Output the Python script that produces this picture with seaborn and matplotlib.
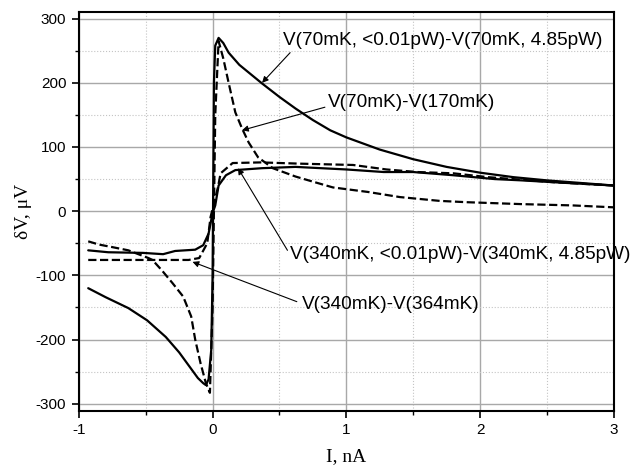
import numpy as np
import pandas as pd
import matplotlib
matplotlib.use("Agg")
import matplotlib.pyplot as plt
from matplotlib.ticker import MultipleLocator
import seaborn as sns

# V(70mK, <0.01pW) - V(70mK, 4.85pW)  (solid)
a_x = [-0.93, -0.80, -0.63, -0.49, -0.35, -0.25, -0.18, -0.11, -0.07, -0.05, -0.03, -0.01,
       0.0, 0.005, 0.01, 0.02, 0.045, 0.08, 0.12, 0.20, 0.37, 0.50, 0.62, 0.75, 0.88,
       1.0, 1.25, 1.5, 1.75, 2.0, 2.25, 2.5, 2.75, 3.0]
a_y = [-120, -134, -151, -170, -196, -220, -240, -260, -268, -271, -262, -216,
       -100, 50, 200, 258, 270, 262, 247, 228, 199, 178, 160, 142, 126,
       115, 96, 81, 69, 60, 53, 48, 44, 40]

# V(70mK) - V(170mK)  (dashed)
b_x = [-0.93, -0.85, -0.75, -0.63, -0.48, -0.45, -0.38, -0.30, -0.22, -0.16,
       -0.13, -0.09, -0.05, -0.02, 0.0, 0.02, 0.045, 0.08, 0.12, 0.17, 0.22,
       0.27, 0.34, 0.45, 0.62, 0.75, 0.90, 1.16, 1.4, 1.7, 1.9, 2.31, 2.69, 3.0]
b_y = [-47, -52, -56, -61, -73, -76, -92, -112, -133, -164,
       -200, -237, -268, -283, -150, 150, 265, 238, 200, 154, 129,
       107, 84, 67, 54, 46, 37, 30, 22, 16, 14, 11, 9, 6]

# V(340mK, <0.01pW) - V(340mK, 4.85pW)  (solid)
c_x = [-0.93, -0.78, -0.52, -0.37, -0.28, -0.13, -0.07, -0.03, 0.0, 0.02,
       0.045, 0.10, 0.17, 0.37, 0.62, 1.0, 1.28, 1.5, 1.8, 2.11, 2.31, 2.56, 3.0]
c_y = [-61, -64, -65, -67, -62, -60, -53, -35, -3, 9,
       40, 56, 64, 67, 69, 65, 61, 61, 56, 50, 48, 45, 40]

# V(340mK) - V(364mK)  (dashed)
d_x = [-0.93, -0.6, -0.3, -0.18, -0.10, -0.04, -0.015, 0.04, 0.06, 0.15,
       0.36, 0.66, 1.05, 1.3, 1.53, 1.8, 2.06, 2.56, 3.0]
d_y = [-76, -76, -76, -76, -73, -50, -9, 37, 59, 75,
       76, 74, 72, 65, 61, 59, 53, 45, 40]

labels = ["V(70mK, <0.01pW)-V(70mK, 4.85pW)", "V(70mK)-V(170mK)",
          "V(340mK, <0.01pW)-V(340mK, 4.85pW)", "V(340mK)-V(364mK)"]
text_pos = [(0.53, 266), (0.86, 170), (0.58, -68), (0.67, -146)]
arrow_tail = [(0.58, 247), (0.84, 162), (0.56, -61), (0.63, -141)]
arrow_tip = [(0.37, 200), (0.22, 126), (0.19, 67), (-0.15, -79)]

sns.set_style("white")
plt.rcParams['font.family'] = ['Liberation Sans', 'DejaVu Sans']
plt.rcParams['axes.unicode_minus'] = False
plt.rcParams['text.color'] = 'black'
plt.rcParams['axes.labelcolor'] = 'black'

fig = plt.figure(figsize=(6.36, 4.70), dpi=100)
ax = fig.add_axes([0.124, 0.126, 0.841, 0.848])

for xs, ys, ls in [(a_x, a_y, '-'), (b_x, b_y, '--'), (c_x, c_y, '-'), (d_x, d_y, '--')]:
    sns.lineplot(x=xs, y=ys, ax=ax, color='black', lw=1.6, linestyle=ls,
                 sort=False, estimator=None, zorder=3)

for lab, tp, tail, tip in zip(labels, text_pos, arrow_tail, arrow_tip):
    ax.text(tp[0], tp[1], lab, fontsize=13.7, ha='left', va='center',
            color='black', zorder=4)
    ax.annotate('', xy=tip, xytext=tail,
                arrowprops=dict(arrowstyle='-|>', color='black', lw=0.8,
                                mutation_scale=9, shrinkA=0, shrinkB=0))

ax.set_xlim(-1, 3)
ax.set_ylim(-311, 310)
ax.xaxis.set_major_locator(MultipleLocator(1))
ax.xaxis.set_minor_locator(MultipleLocator(0.5))
ax.yaxis.set_major_locator(MultipleLocator(100))
ax.yaxis.set_minor_locator(MultipleLocator(50))

ax.grid(which='major', color='#a8a8a8', lw=1.0, ls='-', zorder=0)
ax.grid(which='minor', color='#c4c4c4', lw=0.8, ls=':', zorder=0)
ax.set_axisbelow(True)

ax.tick_params(which='both', bottom=True, left=True, top=False, right=False,
               direction='out', colors='black')
ax.tick_params(which='major', length=5, width=1.2, labelsize=11, pad=4)
ax.tick_params(which='minor', length=3, width=1.0)

for side in ['left', 'bottom', 'top', 'right']:
    ax.spines[side].set_color('black')
    ax.spines[side].set_linewidth(1.5)

ax.set_xlabel("I, nA", family='Liberation Serif', fontsize=14, labelpad=8)
ax.set_ylabel("δV, μV", family='Liberation Serif', fontsize=14, labelpad=3)

fig.savefig("out.png", dpi=100)
